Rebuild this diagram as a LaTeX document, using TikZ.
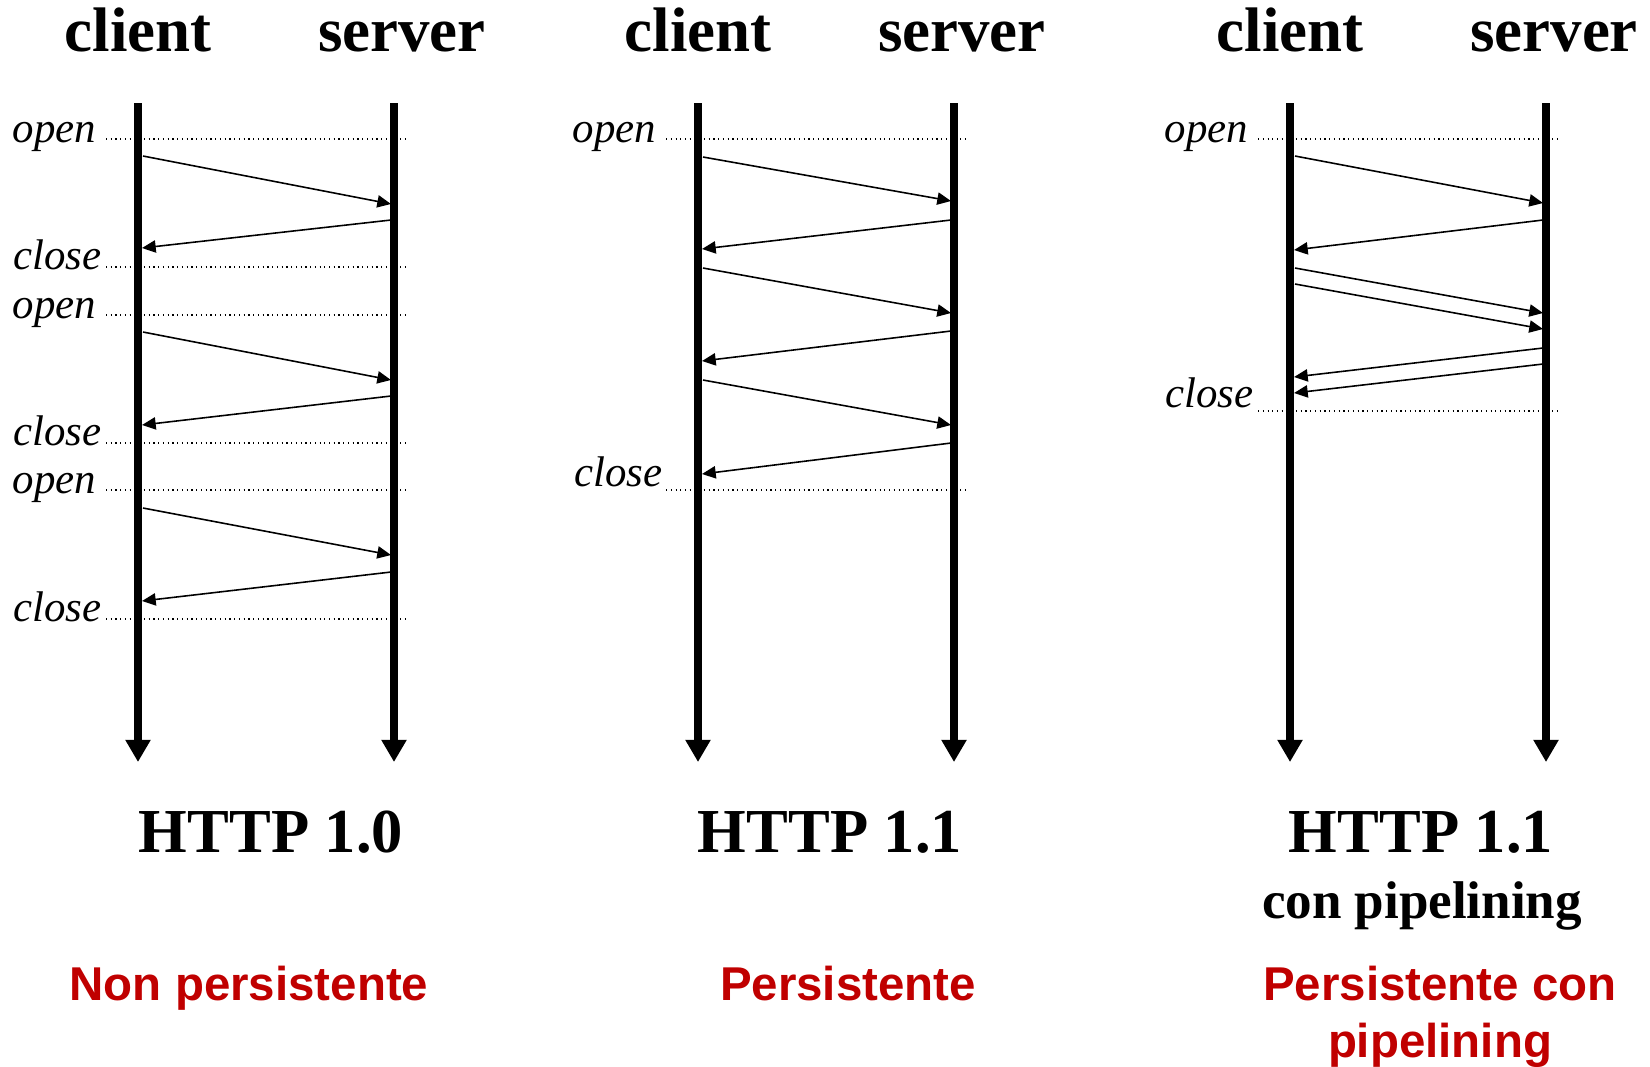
\documentclass[tikz,border=0pt]{standalone}
\usepackage{fontspec}
\setmainfont{Liberation Serif}
\newfontfamily\redfont{Liberation Sans}
\usetikzlibrary{arrows.meta}
\definecolor{darkred}{HTML}{C00000}

\begin{document}
\begin{tikzpicture}[line join=round,x=0.1mm,y=-0.1mm]
	\tikzset{lifeline/.style={line width=2.3pt,-{Triangle[length=6.3pt,width=6.8pt]}},
		msg/.style={line width=0.45pt,-{Triangle[length=3.9pt,width=3.5pt]}},
		dotline/.style={densely dotted,line width=0.35pt},
		evt/.style={font=\fontsize{12.2}{12}\selectfont\itshape,inner sep=0pt,anchor=base east},
		actor/.style={font=\fontsize{17.9}{18}\selectfont\bfseries,inner sep=0pt,anchor=base},
		proto/.style={font=\fontsize{17.8}{18}\selectfont\bfseries,inner sep=0pt,anchor=base},
		kind/.style={font=\fontsize{13.5}{16.2}\selectfont\redfont\bfseries,text=darkred,inner sep=0pt,align=center,anchor=base}}
	\useasboundingbox (0,0) rectangle (1650,1066);
	% three columns, client at \cx and server at \cx+256
	\foreach \cx/\n in {138/1,698/2,1290/3}{
		\coordinate (c\n top) at (\cx,103);
		\coordinate (c\n bot) at (\cx,762);
		\coordinate (s\n top) at (\cx+256,103);
		\coordinate (s\n bot) at (\cx+256,762);
		\draw[lifeline] (c\n top) -- (c\n bot);
		\draw[lifeline] (s\n top) -- (s\n bot);
		\node[actor] (client\n) at (\cx,51) {client};
		\node[actor] (server\n) at (\cx+264,51) {server};
	}
	% open / close marks
	\foreach \cx/\y/\t/\dx/\dy in {138/139/open/41/3,138/267/close/36/2,138/315/open/41/3,138/443/close/36/2,138/490/open/41/3,138/619/close/36/2,
		698/139/open/41/3,698/490/close/35/-4,1290/139/open/41/3,1290/411/close/36/-4}{
		\draw[dotline] (\cx-32,\y) -- (\cx+270,\y);
		\node[evt] (\t\cx\y) at (\cx-\dx,\y+\dy) {\t};
	}
	% requests
	\foreach \cx/\a/\b in {138/156/204,138/332/380,138/508/555,698/157/201,698/268/313,698/380/425,1290/156/203,1290/268/313,1290/284/329}{
		\coordinate (rq\cx\a) at (\cx+5,\a);
		\coordinate (sv\cx\a) at (\cx+253,\b);
		\draw[msg] (rq\cx\a) -- (sv\cx\a);
	}
	% replies
	\foreach \cx/\a/\b in {138/220/248,138/396/425,138/572/601,698/220/249,698/331/361,698/443/474,1290/220/250,1290/348/377,1290/364/393}{
		\coordinate (rp\cx\a) at (\cx+253,\a);
		\coordinate (cl\cx\a) at (\cx+4,\b);
		\draw[msg] (rp\cx\a) -- (cl\cx\a);
	}
	\node[proto] (http1) at (271,852) {HTTP 1.0};
	\node[proto] (http2) at (830,852) {HTTP 1.1};
	\node[proto] (http3) at (1421,852) {HTTP 1.1};
	\node[proto,font=\fontsize{15.1}{16}\selectfont\bfseries] (pipe) at (1422,918) {con pipelining};
	\node[kind] (kind1) at (249,1000) {Non persistente};
	\node[kind] (kind2) at (848,1000) {Persistente};
	\node[kind] (kind3) at (1440,1057) {Persistente con\\pipelining};
\end{tikzpicture}
\end{document}
